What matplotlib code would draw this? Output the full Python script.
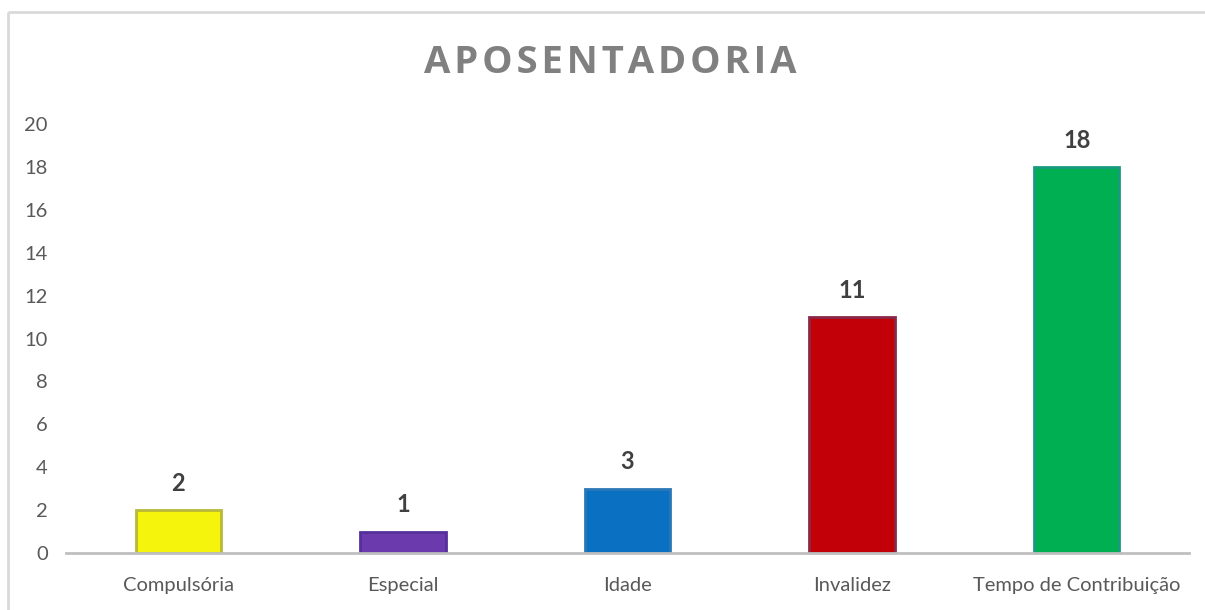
import matplotlib.pyplot as plt
from matplotlib.lines import Line2D

categories = ['Compulsória', 'Especial', 'Idade', 'Invalidez', 'Tempo de Contribuição']
values = [2, 1, 3, 11, 18]
bar_colours = ['#f4f40c', '#6b3aac', '#0a70c2', '#c20008', '#00af52']
edge_colours = ['#b8b83a', '#55309a', '#2a78b8', '#8a2848', '#1a9a80']
yticks = [0, 2, 4, 6, 8, 10, 12, 14, 16, 18, 20]

plt.rcParams['font.family'] = ['Lato', 'DejaVu Sans']

fig = plt.figure(figsize=(12.05, 6.10), dpi=100)
ax = fig.add_axes([66 / 1205, 57 / 610, 1123 / 1205, 429 / 610])

# light frame (top and left only, the rest is cut off)
fig.lines.append(Line2D([8 / 1205, 1.01], [1 - 12 / 610] * 2, transform=fig.transFigure,
                        color='#d9d9d9', linewidth=2, solid_capstyle='butt'))
fig.lines.append(Line2D([8 / 1205] * 2, [-0.01, 1 - 12 / 610], transform=fig.transFigure,
                        color='#d9d9d9', linewidth=2, solid_capstyle='butt'))

x = range(len(categories))
bars = ax.bar(x, values, width=0.38, color=bar_colours, edgecolor=edge_colours, linewidth=2)

# value labels on top
for rect, v in zip(bars, values):
    ax.annotate(str(v), (rect.get_x() + rect.get_width() / 2, v), xytext=(0, 11),
                textcoords='offset points', ha='center', va='bottom',
                fontsize=17, fontweight='bold', color='#404040')

ax.set_xlim(-0.5, len(categories) - 0.5)
ax.set_ylim(0, 20)
ax.set_yticks(yticks)
ax.set_xticks(list(x))
ax.set_xticklabels(categories)
ax.tick_params(axis='both', length=0, labelsize=14.5, colors='#595959')
ax.tick_params(axis='x', pad=17)
ax.tick_params(axis='y', pad=13)

for side in ['top', 'right', 'left']:
    ax.spines[side].set_visible(False)
ax.spines['bottom'].set_color('#bfbfbf')
ax.spines['bottom'].set_linewidth(2)

# spaced-out title
title = '\u200a'.join('APOSENTADORIA')
fig.text(610 / 1205, 1 - 63 / 610, title, ha='center', va='center', family='Open Sans',
         fontsize=27.5, fontweight='bold', color='#808080')

fig.savefig('out.png', dpi=100)
